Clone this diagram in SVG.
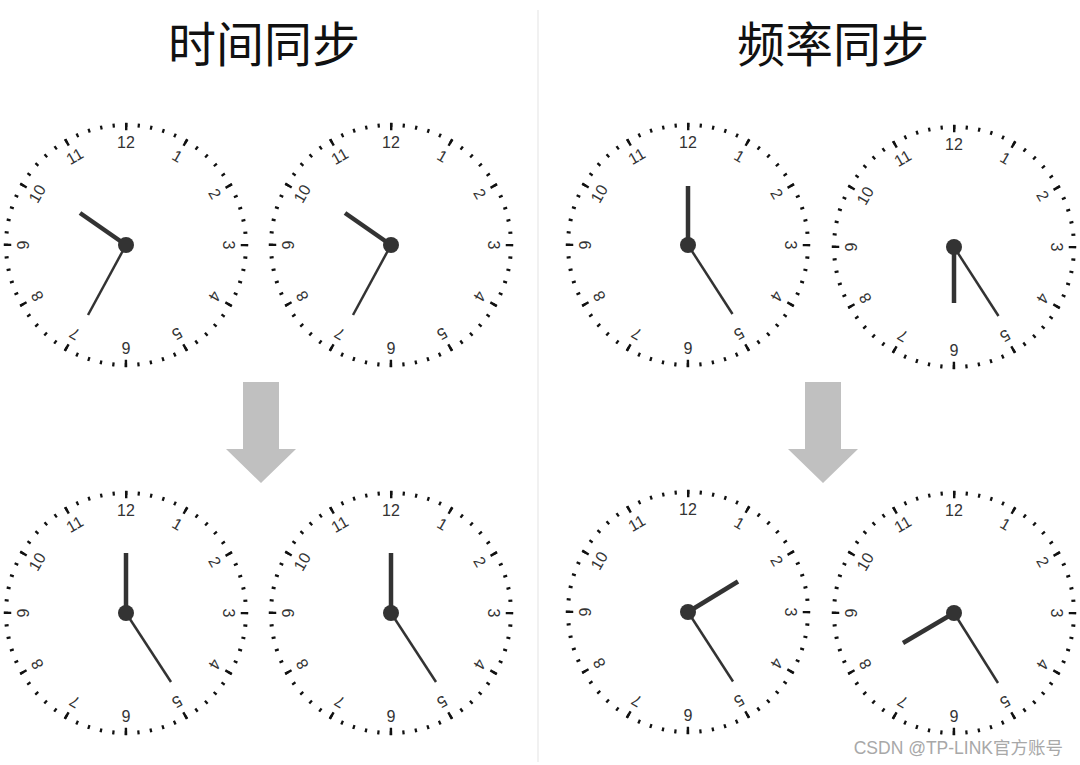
<svg xmlns="http://www.w3.org/2000/svg" xmlns:xlink="http://www.w3.org/1999/xlink" width="1080" height="765" viewBox="0 0 1080 765">
<style>
.title{font-family:"Noto Sans CJK SC","Liberation Sans",sans-serif;font-size:48px;fill:#111;text-anchor:middle}
.num{font-family:"Liberation Sans",Arial,sans-serif;font-size:16px;fill:#333;text-anchor:middle}
.minor{fill:none;stroke:#111;stroke-width:4;stroke-dasharray:2.3 10.2664;stroke-dashoffset:1.15}
.major{fill:none;stroke:#111;stroke-width:7.5;stroke-dasharray:2.5 59.5464;stroke-dashoffset:1.25}
.hour{stroke:#333;stroke-width:4.5;stroke-linecap:butt}
.minute{stroke:#333;stroke-width:2.5;stroke-linecap:butt}
.hub{fill:#333}
.arrow{fill:#c0c0c0}
.divider{stroke:#ececec;stroke-width:1.5}
.mark{font-family:"Liberation Sans","Noto Sans CJK SC",sans-serif;font-size:17.5px;fill:#a8a8a8;text-anchor:end}
</style>
<defs>
<g id="face">
<circle class="minor" r="120"/>
<circle class="major" r="118.5"/>
<text class="num" x="0" y="-97">12</text>
<text class="num" x="0" y="-97" transform="rotate(30)">1</text>
<text class="num" x="0" y="-97" transform="rotate(60)">2</text>
<text class="num" x="0" y="-97" transform="rotate(90)">3</text>
<text class="num" x="0" y="-97" transform="rotate(120)">4</text>
<text class="num" x="0" y="-97" transform="rotate(150)">5</text>
<text class="num" x="0" y="-97" transform="rotate(180)">6</text>
<text class="num" x="0" y="-97" transform="rotate(210)">7</text>
<text class="num" x="0" y="-97" transform="rotate(240)">8</text>
<text class="num" x="0" y="-97" transform="rotate(270)">9</text>
<text class="num" x="0" y="-97" transform="rotate(300)">10</text>
<text class="num" x="0" y="-97" transform="rotate(330)">11</text>
</g>
</defs>
<rect width="1080" height="765" fill="#fff"/>
<line class="divider" x1="538" y1="10" x2="538" y2="762"/>
<g id="title-time"><text class="title" x="264" y="62">时间同步</text></g>
<g id="title-freq"><text class="title" x="833" y="62">频率同步</text></g>

<g id="clock-time-a-before" transform="translate(126,245)">
<use xlink:href="#face" href="#face"/>
<line class="hour" x1="0" y1="0" x2="-46" y2="-32"/>
<line class="minute" x1="0" y1="0" x2="-38" y2="70"/>
<circle class="hub" r="8"/>
</g>
<g id="clock-time-b-before" transform="translate(391,245)">
<use xlink:href="#face" href="#face"/>
<line class="hour" x1="0" y1="0" x2="-46" y2="-32"/>
<line class="minute" x1="0" y1="0" x2="-38" y2="70"/>
<circle class="hub" r="8"/>
</g>
<g id="clock-freq-a-before" transform="translate(688,245)">
<use xlink:href="#face" href="#face"/>
<line class="hour" x1="0" y1="0" x2="0" y2="-59"/>
<line class="minute" x1="0" y1="0" x2="44.5" y2="69"/>
<circle class="hub" r="8"/>
</g>
<g id="clock-freq-b-before" transform="translate(954,247)">
<use xlink:href="#face" href="#face"/>
<line class="hour" x1="0" y1="0" x2="0" y2="56"/>
<line class="minute" x1="0" y1="0" x2="44.5" y2="69"/>
<circle class="hub" r="8"/>
</g>

<g id="clock-time-a-after" transform="translate(126,613)">
<use xlink:href="#face" href="#face"/>
<line class="hour" x1="0" y1="0" x2="0" y2="-60"/>
<line class="minute" x1="0" y1="0" x2="45" y2="69"/>
<circle class="hub" r="8"/>
</g>
<g id="clock-time-b-after" transform="translate(391,613)">
<use xlink:href="#face" href="#face"/>
<line class="hour" x1="0" y1="0" x2="0" y2="-60"/>
<line class="minute" x1="0" y1="0" x2="45" y2="69"/>
<circle class="hub" r="8"/>
</g>
<g id="clock-freq-a-after" transform="translate(688,612)">
<use xlink:href="#face" href="#face"/>
<line class="hour" x1="0" y1="0" x2="50" y2="-30.5"/>
<line class="minute" x1="0" y1="0" x2="45" y2="69.5"/>
<circle class="hub" r="8"/>
</g>
<g id="clock-freq-b-after" transform="translate(954,613)">
<use xlink:href="#face" href="#face"/>
<line class="hour" x1="0" y1="0" x2="-51" y2="30"/>
<line class="minute" x1="0" y1="0" x2="44" y2="70"/>
<circle class="hub" r="8"/>
</g>

<g id="connectors">
<polygon class="arrow" points="243,382 279,382 279,449 296,449 261,483 226,449 243,449"/>
<polygon class="arrow" points="805,382 841,382 841,449 858,449 823,483 788,449 805,449"/>
</g>
<g id="watermark"><text class="mark" x="1063" y="754">CSDN @TP-LINK官方账号</text></g>
</svg>
